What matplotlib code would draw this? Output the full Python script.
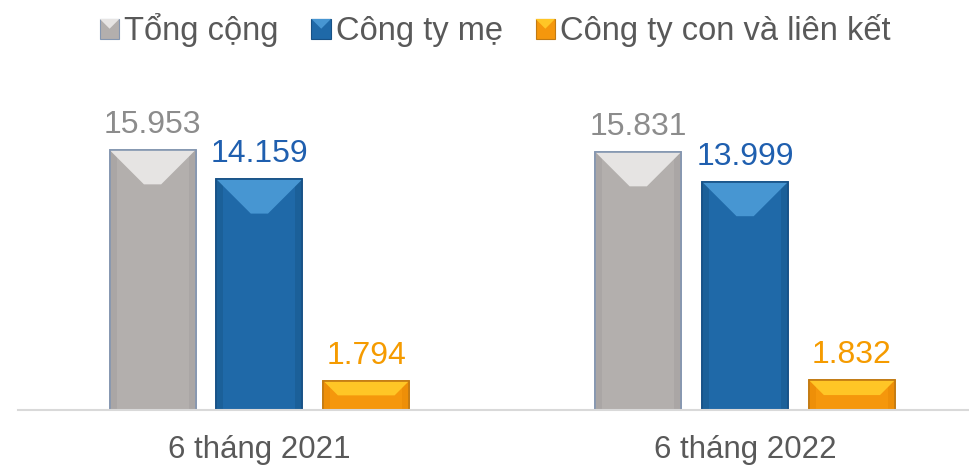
import matplotlib
matplotlib.use("Agg")
import matplotlib.pyplot as plt
from matplotlib.patches import Rectangle, Polygon
from matplotlib.legend_handler import HandlerBase

plt.rcParams['font.family'] = ['Liberation Sans', 'DejaVu Sans']

categories = ["6 tháng 2021", "6 tháng 2022"]
series_names = ["Tổng cộng", "Công ty mẹ", "Công ty con và liên kết"]
tong_cong = [15.953, 15.831]
cong_ty_me = [14.159, 13.999]
cong_ty_con = [1.794, 1.832]
value_labels = [["15.953", "15.831"], ["14.159", "13.999"], ["1.794", "1.832"]]

series = [tong_cong, cong_ty_me, cong_ty_con]
body_colors = ["#B3AFAD", "#1F69A8", "#F5970C"]
top_colors = ["#E6E4E3", "#4796D2", "#FFC626"]
side_colors = ["#AAA6A5", "#1B6099", "#EE8F08"]
edge_colors = ["#8496B0", "#175186", "#C27A12"]
label_colors = ["#8C8C8C", "#1F5FAF", "#F59B00"]
text_color = "#595959"

W, H, DPI = 9.69, 4.65, 100
fig = plt.figure(figsize=(W, H), dpi=DPI)
ax_left, ax_bottom = 18 / 969, 1 - 410 / 465
ax_w, ax_h = 1 - ax_left, (410 - 84) / 465
ax = fig.add_axes([ax_left, ax_bottom, ax_w, ax_h])
ax.set_xlim(-0.497, 1.461)
ax.set_ylim(0, 20)

xpx = (ax.get_xlim()[1] - ax.get_xlim()[0]) / (ax_w * W * DPI)
ypx = (ax.get_ylim()[1] - ax.get_ylim()[0]) / (ax_h * H * DPI)

bar_w = 0.177
offsets = [-0.22, 0.0, 0.22]
xs = list(range(len(categories)))

for si, vals in enumerate(series):
    pos = [x + offsets[si] for x in xs]
    bars = ax.bar(pos, vals, width=bar_w, color=body_colors[si],
                  edgecolor=edge_colors[si], linewidth=1.2, zorder=2,
                  label=series_names[si])
    for b, lab in zip(bars, value_labels[si]):
        x0, w, h = b.get_x(), b.get_width(), b.get_height()
        wpx = w / xpx
        hpx = h / ypx
        d = min(0.4 * wpx, hpx / 2)
        side = min(7, wpx / 8)
        ax.add_patch(Rectangle((x0, 0), side * xpx, h, facecolor=side_colors[si],
                               edgecolor='none', zorder=2.1))
        ax.add_patch(Rectangle((x0 + w - side * xpx, 0), side * xpx, h,
                               facecolor=side_colors[si], edgecolor='none', zorder=2.1))
        poly = [(x0, h), (x0 + w, h), (x0 + w - d * xpx, h - d * ypx),
                (x0 + d * xpx, h - d * ypx)]
        ax.add_patch(Polygon(poly, closed=True, facecolor=top_colors[si],
                             edgecolor='none', zorder=2.2))
        ax.add_patch(Rectangle((x0, 0), w, h, facecolor='none',
                               edgecolor=edge_colors[si], linewidth=1.2, zorder=2.3))
        ax.annotate(lab, (x0 + w / 2, h), xytext=(0, 7), textcoords='offset points',
                    ha='center', va='bottom', fontsize=23, color=label_colors[si])

for s in ['top', 'right', 'left']:
    ax.spines[s].set_visible(False)
ax.spines['bottom'].set_color('#D9D9D9')
ax.spines['bottom'].set_linewidth(1.5)
ax.set_yticks([])
ax.set_xticks(xs)
ax.set_xticklabels(categories, fontsize=22.5, color=text_color)
ax.tick_params(axis='x', length=0, pad=18)


class BevelHandler(HandlerBase):
    def __init__(self, idx):
        super().__init__()
        self.idx = idx

    def create_artists(self, legend, orig_handle, xdescent, ydescent, width,
                       height, fontsize, trans):
        s = min(width, height)
        x0 = -xdescent + (width - s) / 2
        y0 = -ydescent + (height - s) / 2
        i = self.idx
        r = Rectangle((x0, y0), s, s, facecolor=body_colors[i],
                      edgecolor=edge_colors[i], linewidth=0.8, transform=trans)
        t = Polygon([(x0, y0 + s), (x0 + s, y0 + s), (x0 + s / 2, y0 + s / 2)],
                    closed=True, facecolor=top_colors[i], edgecolor='none',
                    transform=trans)
        return [r, t]


handles, labels = ax.get_legend_handles_labels()
leg = fig.legend(handles, labels, loc='center', bbox_to_anchor=(0.511, 0.935),
                 ncol=3, frameon=False, fontsize=23.5, handlelength=0.6,
                 handleheight=0.6, handletextpad=0.15, columnspacing=1.0,
                 handler_map={h: BevelHandler(i) for i, h in enumerate(handles)})
for t in leg.get_texts():
    t.set_color(text_color)

fig.savefig("out.png", dpi=DPI)
